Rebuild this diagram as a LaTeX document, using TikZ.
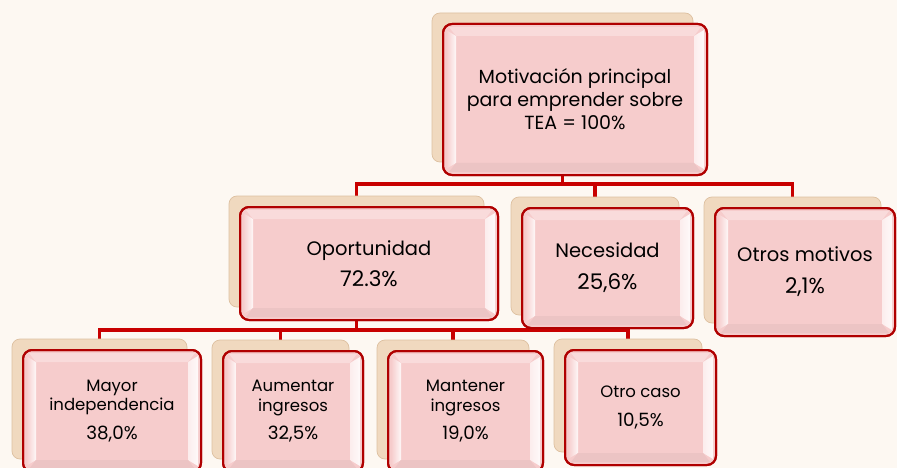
\documentclass[tikz,border=0pt]{standalone}
\usepackage{fontspec}
\setmainfont{Poppins}
\definecolor{bg}{HTML}{FDF8F2}
\definecolor{pinkf}{HTML}{F6CCCC}
\definecolor{redb}{HTML}{B00000}
\definecolor{connc}{HTML}{C80000}
\definecolor{tanB}{HTML}{F0D9BF}
\definecolor{tanD}{HTML}{DDC0A0}
\pgfdeclarelayer{bgl}
\pgfdeclarelayer{lines}
\pgfsetlayers{bgl,lines,main}
\tikzset{
 backbox/.style={rounded corners=8pt, fill=tanB, draw=tanD, line width=0.7pt, inner sep=0pt, outer sep=0pt},
 frontbox/.style={rounded corners=9pt, fill=pinkf, draw=redb, line width=2pt, inner sep=0pt, outer sep=0pt},
 conline/.style={draw=connc, line width=3.6pt},
 lbl/.style={align=center, text=black, inner sep=0pt},
 fA/.style={font=\fontsize{19}{23}\selectfont},
 fB/.style={font=\fontsize{19.5}{23}\selectfont},
 fC/.style={font=\fontsize{16.5}{19.5}\selectfont},
}
\newcommand\pcB[1]{{\fontsize{21.5}{23}\selectfont #1}}
\newcommand\pcC[1]{{\fontsize{18.3}{19.5}\selectfont #1}}
% name, x1, y1, x2, y2, font style, text
\newcommand\mkbox[7]{%
 \node[backbox, minimum width={#4-#2-3}, minimum height={#5-#3-2}, anchor=north west] (#1b) at ({#2-11},{#3-11}) {};
 \node[frontbox, minimum width={#4-#2}, minimum height={#5-#3}, anchor=north west] (#1) at (#2,#3) {};
 \shade[left color=pinkf, right color=white!85!pinkf] ({#2+3},{#3+6}) -- ({#2+13},{#3+12}) -- ({#2+13},{#5-12}) -- ({#2+3},{#5-6}) -- cycle;
 \shade[left color=white!65!pinkf, right color=white!88!pinkf] ({#4-3},{#3+6}) -- ({#4-13},{#3+12}) -- ({#4-13},{#5-12}) -- ({#4-3},{#5-6}) -- cycle;
 \fill[white!30!pinkf] ({#2+6},{#3+3}) -- ({#4-6},{#3+3}) -- ({#4-13},{#3+12}) -- ({#2+13},{#3+12}) -- cycle;
 \fill[pinkf!96!black] ({#2+6},{#5-3}) -- ({#4-6},{#5-3}) -- ({#4-13},{#5-12}) -- ({#2+13},{#5-12}) -- cycle;
 \draw[redb, line width=2pt, rounded corners=9pt] (#2,#3) rectangle (#4,#5);
 \node[lbl, #6] (#1t) at (#1.center) {#7};
}
\begin{document}
\begin{tikzpicture}[x=1pt,y=-1pt]
\useasboundingbox (0,0) rectangle (897,468);
\clip (0,0) rectangle (897,468);
\begin{pgfonlayer}{bgl}
\fill[bg] (0,0) rectangle (897,468);
\end{pgfonlayer}
\mkbox{top}{443}{24}{707}{175}{fA}{Motivación principal\\para emprender sobre\\TEA = 100\%}
\mkbox{opo}{240}{207}{498}{320}{fB}{Oportunidad\\[8pt]\pcB{72.3\%}}
\mkbox{nec}{522}{208}{693}{328}{fB}{Necesidad\\[9pt]\pcB{25,6\%}}
\mkbox{otr}{715}{208}{895}{336}{fB}{Otros motivos\\[9pt]\pcB{2,1\%}}
\mkbox{may}{23}{350}{201}{472}{fC}{Mayor\\independencia\\[9pt]\pcC{38,0\%}}
\mkbox{aum}{223}{351}{363}{472}{fC}{Aumentar\\ingresos\\[9pt]\pcC{32,5\%}}
\mkbox{man}{388}{351}{543}{472}{fC}{Mantener\\ingresos\\[9pt]\pcC{19,0\%}}
\mkbox{oca}{565}{350}{716}{465}{fC}{Otro caso\\[9pt]\pcC{10,5\%}}
\coordinate (busA) at (0,184);
\coordinate (busB) at (0,330);
\begin{pgfonlayer}{lines}
\draw[conline] (topb.center) -- (topb.center |- busA) -| (opob.north);
\draw[conline] (topb.center |- busA) -| (necb.north);
\draw[conline] (topb.center |- busA) -| (otrb.north);
\draw[conline] (opob.center) -- (opob.center |- busB) -| (mayb.north);
\draw[conline] (opob.center |- busB) -| (aumb.north);
\draw[conline] (opob.center |- busB) -| (manb.north);
\draw[conline] (opob.center |- busB) -| (ocab.north);
\end{pgfonlayer}
\end{tikzpicture}
\end{document}
